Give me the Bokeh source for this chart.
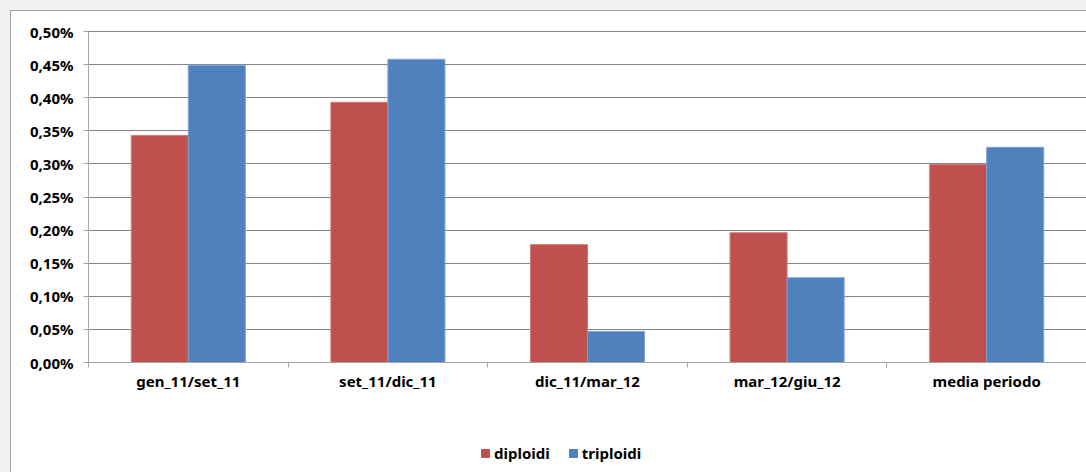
from bokeh.plotting import figure
from bokeh.models import (Range1d, FixedTicker, CustomJSTickFormatter, ColumnDataSource,
                          Legend, LegendItem)
from bokeh.layouts import column
from bokeh.transform import dodge
from bokeh.embed import file_html
from bokeh.resources import INLINE

categories = ["gen_11/set_11", "set_11/dic_11", "dic_11/mar_12", "mar_12/giu_12", "media periodo"]
diploidi = [0.343, 0.393, 0.178, 0.196, 0.299]   # percent
triploidi = [0.449, 0.458, 0.047, 0.128, 0.325]  # percent
y_ticks = [0.00, 0.05, 0.10, 0.15, 0.20, 0.25, 0.30, 0.35, 0.40, 0.45, 0.50]
series = ["diploidi", "triploidi"]

RED = "#C0504D"
BLUE = "#4F81BD"
FONT = "Noto Sans"
FS = "15px"
FSTYLE = "bold"

n = len(categories)
centers = [i + 0.5 for i in range(n)]
src = ColumnDataSource(dict(x=centers, cat=categories, d=diploidi, t=triploidi))

p = figure(width=1075, height=400, x_range=Range1d(0, n), y_range=Range1d(0, 0.5 * 332 / 331),
           output_backend="svg", toolbar_location=None,
           min_border_left=77, min_border_right=0, min_border_top=19, min_border_bottom=49)
p.outline_line_color = None
p.background_fill_color = "white"
p.border_fill_color = "white"
p.margin = (1, 0, 0, 1)

bw = 0.2857
r1 = p.vbar(x=dodge("x", -bw / 2), top="d", width=bw, source=src,
            fill_color=RED, line_color="#cf7a77", line_width=1)
r2 = p.vbar(x=dodge("x", bw / 2), top="t", width=bw, source=src,
            fill_color=BLUE, line_color="#7ea2d0", line_width=1)

# x axis: labels at centers, ticks at category boundaries
labels = {c: cat for c, cat in zip(centers, categories)}
xa = p.xaxis[0]
xa.ticker = FixedTicker(ticks=centers, minor_ticks=list(range(n + 1)))
xa.major_label_overrides = labels
xa.major_tick_line_color = None
xa.major_tick_out = 0
xa.major_tick_in = 0
xa.minor_tick_out = 5
xa.minor_tick_in = 0
xa.minor_tick_line_color = "#a6a6a6"
xa.axis_line_color = "#a6a6a6"
xa.major_label_standoff = 3
xa.major_label_text_font = FONT
xa.major_label_text_font_size = FS
xa.major_label_text_font_style = FSTYLE
xa.major_label_text_color = "black"

ya = p.yaxis[0]
ya.ticker = FixedTicker(ticks=y_ticks)
ya.formatter = CustomJSTickFormatter(code="return tick.toFixed(2).replace('.', ',') + '%';")
ya.axis_line_color = "#a6a6a6"
ya.major_tick_line_color = "#a6a6a6"
ya.major_tick_out = 5
ya.major_tick_in = 0
ya.minor_tick_line_color = None
ya.major_label_standoff = 10
ya.major_label_text_font = FONT
ya.major_label_text_font_size = FS
ya.major_label_text_font_style = FSTYLE
ya.major_label_text_color = "black"

p.xgrid.grid_line_color = None
p.ygrid.ticker = FixedTicker(ticks=y_ticks)
p.ygrid.grid_line_color = "#868686"
p.ygrid.grid_line_width = 1

# legend strip below the chart (bars of the same data, kept out of its view)
lf = figure(width=1075, height=61, x_range=Range1d(0, n), y_range=Range1d(1, 2),
            output_backend="svg", toolbar_location=None,
            min_border_left=0, min_border_right=0, min_border_top=0, min_border_bottom=0)
lf.frame_align = False
lf.axis.visible = False
lf.grid.visible = False
lf.outline_line_color = None
lf.background_fill_color = "white"
lf.border_fill_color = "white"
lf.margin = (0, 0, 0, 1)
l1 = lf.vbar(x="x", top="d", width=bw, source=src, fill_color=RED, line_color=RED)
l2 = lf.vbar(x="x", top="t", width=bw, source=src, fill_color=BLUE, line_color=BLUE)

legend = Legend(items=[LegendItem(label=series[0], renderers=[l1]),
                       LegendItem(label=series[1], renderers=[l2])],
                orientation="horizontal", location=(469, 9),
                glyph_width=10, glyph_height=10, label_standoff=4, spacing=18,
                padding=0, margin=0, border_line_alpha=0, background_fill_alpha=0,
                label_text_font=FONT, label_text_font_size=FS,
                label_text_font_style=FSTYLE, label_text_color="black")
lf.add_layout(legend, "center")

wrap = column(p, lf, styles={"background-color": "white",
                             "box-shadow": "inset 1px 1px 0 #a0a0a0"},
              margin=(10, 0, 0, 10), spacing=0)
outer = column(wrap, styles={"background-color": "#f1f1f1"}, margin=0)

open("out.html", "w").write(file_html(outer, INLINE))
